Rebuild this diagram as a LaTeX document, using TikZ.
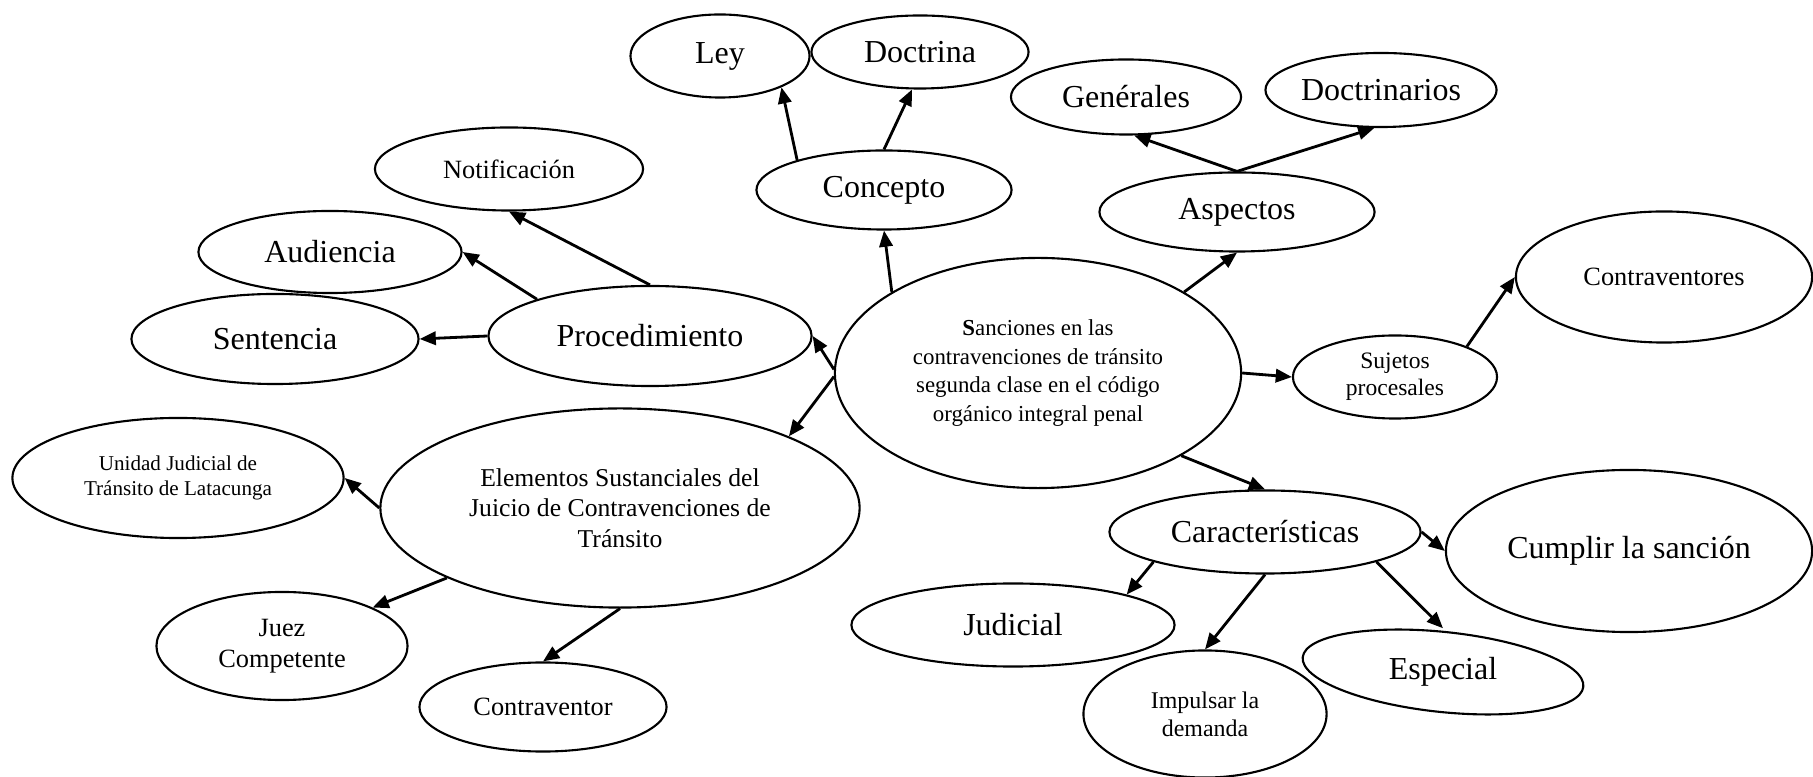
\documentclass[tikz,border=0pt]{standalone}
\usepackage{fontspec}
\setmainfont{Liberation Serif}
\usetikzlibrary{arrows.meta, shapes.geometric}

\tikzset{
  bubble/.style={ellipse, draw, line width=0.6pt, inner sep=0pt, align=center},
  big/.style={font=\fontsize{9.1}{11}\selectfont},
  mid/.style={font=\fontsize{7.5}{9}\selectfont},
  small/.style={font=\fontsize{6.5}{8.1}\selectfont},
  link/.style={->, line width=0.8pt},
}

\begin{document}
\begin{tikzpicture}[x=0.01cm, y=-0.01cm, >={Triangle[length=4.6pt, width=3.8pt]}]
    \useasboundingbox (0,0) rectangle (1813,777);

    % --- Central idea ---
    \node[bubble, small, minimum width=4.06cm, minimum height=2.30cm] (central) at (1038,373)
      {\textbf{S}anciones en las\\contravenciones de tránsito\\segunda clase en el código\\orgánico integral penal};

    % --- Upper branch: concept ---
    \node[bubble, big, minimum width=2.55cm, minimum height=0.79cm] (concepto) at (884,190) {Concepto};
    \node[bubble, big, minimum width=1.79cm, minimum height=0.83cm] (ley) at (720,56) {Ley};
    \node[bubble, big, minimum width=2.17cm, minimum height=0.73cm] (doctrina) at (920,52) {Doctrina};

    % --- Aspects ---
    \node[bubble, big, minimum width=2.75cm, minimum height=0.79cm] (aspectos) at (1237,212) {Aspectos};
    \node[bubble, big, minimum width=2.30cm, minimum height=0.75cm] (generales) at (1126,97) {Genérales};
    \node[bubble, big, minimum width=2.31cm, minimum height=0.74cm] (doctrinarios) at (1381,90) {Doctrinarios};

    % --- Procedure ---
    \node[bubble, big, minimum width=3.23cm, minimum height=1.00cm] (proc) at (650,336) {Procedimiento};
    \node[bubble, mid, minimum width=2.68cm, minimum height=0.83cm] (notif) at (509,169) {Notificación};
    \node[bubble, big, minimum width=2.63cm, minimum height=0.82cm] (audiencia) at (330,252) {Audiencia};
    \node[bubble, big, minimum width=2.87cm, minimum height=0.90cm] (sentencia) at (275,339) {Sentencia};

    % --- Substantial elements ---
    \node[bubble, font=\fontsize{7.3}{8.6}\selectfont, minimum width=4.79cm, minimum height=1.99cm] (elementos) at (620,508)
      {Elementos Sustanciales del\\Juicio de Contravenciones de\\Tránsito};
    \node[bubble, font=\fontsize{6}{7.1}\selectfont, minimum width=3.31cm, minimum height=1.20cm] (unidad) at (178,478)
      {Unidad Judicial de\\Tránsito de Latacunga};
    \node[bubble, mid, minimum width=2.51cm, minimum height=1.08cm] (juez) at (282,646)
      {Juez\\Competente};
    \node[bubble, mid, minimum width=2.47cm, minimum height=0.89cm] (contraventor) at (543,707) {Contraventor};

    % --- Procedural subjects ---
    \node[bubble, font=\fontsize{6.7}{7.6}\selectfont, minimum width=2.04cm, minimum height=0.83cm] (sujetos) at (1395,377)
      {Sujetos\\procesales};
    \node[bubble, mid, minimum width=2.96cm, minimum height=1.31cm] (contraventores) at (1664,277) {Contraventores};

    % --- Characteristics ---
    \node[bubble, big, minimum width=3.11cm, minimum height=0.83cm] (caract) at (1265,532) {Características};
    \node[bubble, big, minimum width=3.66cm, minimum height=1.62cm] (cumplir) at (1629,551) {Cumplir la sanción};
    \node[bubble, big, minimum width=3.23cm, minimum height=0.83cm] (judicial) at (1013,625) {Judicial};
    \node[bubble, font=\fontsize{6.8}{8}\selectfont, minimum width=2.43cm, minimum height=1.27cm] (impulsar) at (1205,714)
      {Impulsar la\\demanda};
    \node[ellipse, big, inner sep=0pt, minimum width=2.83cm, minimum height=0.86cm] (especial) at (1443,672) {Especial};
    \draw[line width=0.6pt, rotate around={-6:(especial.center)}] (especial.center)
      ellipse [x radius=1.41cm, y radius=0.40cm];

    % --- Arrows ---
    \draw[link] (concepto.161) -- (ley.-27);
    \draw[link] (concepto.north) -- (doctrina.-102);
    \draw[link] (central.151) -- (concepto.south);
    \draw[link] (central.29) -- (aspectos.south);
    \draw[link] (aspectos.north) -- (generales.-78);
    \draw[link] (aspectos.north) -- (doctrinarios.-100);
    \draw[link] (central.179) -- (proc.east);
    \draw[link] (proc.north) -- (notif.south);
    \draw[link] (proc.162) -- (audiencia.east);
    \draw[link] (proc.west) -- (sentencia.east);
    \draw[link] (central.181) -- (elementos.23);
    \draw[link] (elementos.west) -- (unidad.east);
    \draw[link] (elementos.-158) -- (juez.23);
    \draw[link] (elementos.south) -- (contraventor.north);
    \draw[link] (central.east) -- (sujetos.west);
    \draw[link] (sujetos.23) -- (contraventores.west);
    \draw[link] (central.-30) -- (caract.north);
    \draw[link] (caract.east) -- (cumplir.west);
    \draw[link] (caract.-165) -- (judicial.15);
    \draw[link] (caract.south) -- (impulsar.north);
    \draw[link] (caract.-15) -- (especial.north);
\end{tikzpicture}
\end{document}
